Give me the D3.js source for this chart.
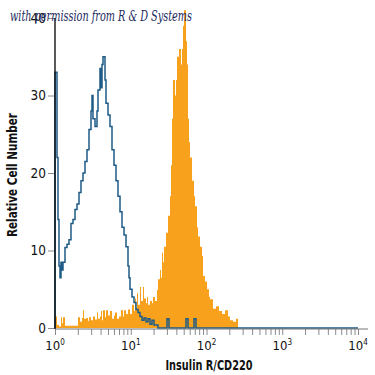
<!doctype html>
<html>
<head>
<meta charset="utf-8">
<script src="https://d3js.org/d3.v7.min.js"></script>
<style>
  body{margin:0;background:#fff;}
  text{font-family:"Liberation Sans Narrow","DejaVu Sans Condensed","Arial Narrow",sans-serif;font-stretch:condensed;}
  .tick line{stroke:#8a8a8a;}
</style>
</head>
<body>
<svg id="chart" width="375" height="375"></svg>
<script>
// blue outline histogram (isotype control): bin start intensity, count
var blueX = [1.00,1.063,1.095,1.129,1.164,1.200,1.237,1.275,1.355,1.440,1.530,1.626,1.728,1.837,1.952,2.074,2.204,2.342,2.489,2.645,2.811,2.987,3.079,3.174,3.374,3.585,3.696,3.928,4.049,4.174,4.302,4.573,4.713,5.009,5.323,5.656,6.010,6.389,6.787,7.213,7.664,8.145,8.656,9.199,9.482,9.775,10.39,11.04,11.73,12.47,13.25,14.08,14.96,15.90,16.90,17.95,19.08,20.27,22.89,30.10,31.98,53.63,57.00,68.39,72.67,10000];
var blueY = [33,22,14,8,6.5,8.5,7.5,8.5,10.4,10.8,11.4,13.5,14,15.3,16,17.5,19,20,21.5,23,25.6,28,30,27,26,28,30.7,33.5,31,34,35,32,29,27.5,26,23,21,19,17,15,13,12,10.5,8,6.5,5,4,3.3,2.4,2,1.5,1,1.3,0.8,1.2,0.5,1,0.4,0,1.2,0,1.2,0,1.2,0,0];

// orange filled histogram (anti-Insulin R): bin start intensity, count
var orangeX = [1.00,1.063,1.129,1.200,1.237,1.275,1.355,2.012,2.138,2.272,2.342,2.415,2.566,2.727,2.811,2.987,3.174,3.374,3.585,3.696,3.928,4.049,4.174,4.302,4.573,4.713,5.009,5.323,5.656,6.010,6.196,6.585,6.998,7.436,7.902,8.145,8.656,9.199,9.775,10.39,11.04,11.38,11.73,12.09,12.47,13.25,13.66,14.51,14.96,15.90,16.39,16.90,17.95,19.08,19.67,20.90,22.21,22.89,24.33,25.08,25.85,26.65,27.47,29.19,31.02,32.97,33.99,35.04,36.12,38.39,39.57,40.79,43.35,46.07,47.49,48.96,50.47,53.63,55.29,57.00,58.75,60.57,64.37,68.39,70.50,74.92,77.23,82.07,87.22,89.91,95.54,101.5,107.9,111.2,121.8,133.5,146.2,160.2,175.5,192.2,204.3,223.8,245.2,260.5];
var orangeY = [1.5,0.4,0.2,1.4,0.6,1.4,0.3,1.4,0.8,1.3,2.3,1.2,1.3,0.9,1.4,1.0,1.5,1.1,2.0,1.2,1.5,2.2,1.0,2.3,1.4,2.3,1.6,2.2,1.2,1.6,2.0,1.2,1.5,2.3,1.5,2.3,1.8,2.4,1.8,3.0,2.2,3.8,2.6,4.5,3.0,5.3,3.5,5.3,3.8,3.2,4.0,3.0,3.5,3.2,4.0,3.5,4.9,6.3,7.5,6.5,9.7,8.5,10.5,12.3,14.5,17,21,27,32,30,32,35,36,34,36,39,41,37,34,27,24,22,19,17,15.7,13,11.8,10.5,9.3,6.7,6,5,4,3.7,2.5,2.8,2.2,1.8,2.3,1.5,1.0,0.8,1.2,0];

var xDecades = [1,10,100,1000,10000];
var yTicks = [0,10,20,30,40];

var svg = d3.select('#chart');
var x = d3.scaleLog().domain([1,10000]).range([55,358]);
var y = d3.scaleLinear().domain([0,40]).range([328,18]);

var orange = orangeX.map(function(v,i){return {x:v,y:orangeY[i]};});
var blue = [{x:1,y:0}].concat(blueX.map(function(v,i){return {x:v,y:blueY[i]};}));

// orange area
svg.append('path').datum(orange)
  .attr('fill','#f7a11c')
  .attr('d', d3.area().curve(d3.curveStepAfter)
    .x(function(d){return x(d.x);})
    .y0(y(0)).y1(function(d){return y(d.y);}));

// blue outline
svg.append('path').datum(blue)
  .attr('fill','none').attr('stroke','#1e5b87').attr('stroke-width',1.5)
  .attr('d', d3.line().curve(d3.curveStepAfter)
    .x(function(d){return x(d.x);})
    .y(function(d){return y(d.y);}));

// x axis
var xAxis = d3.axisBottom(x).tickValues(x.ticks()).tickSize(6).tickFormat('');
var gx = svg.append('g').attr('transform','translate(0,329)').call(xAxis);
gx.select('.domain').remove();
gx.append('line').attr('x1',55).attr('x2',368).attr('stroke','#777').attr('stroke-width',1.2);
gx.selectAll('.decade').data(xDecades).enter().append('text')
  .attr('class','decade')
  .attr('x',function(d){return x(d);}).attr('y',21)
  .attr('text-anchor','middle').attr('fill','#111').attr('font-size',13)
  .each(function(d){
    var t = d3.select(this);
    t.append('tspan').text('10');
    t.append('tspan').attr('dy',-5).attr('font-size',8).text(Math.round(Math.log10(d)));
  });

// y axis
var yAxis = d3.axisLeft(y).tickValues(yTicks).tickSize(7).tickPadding(2);
var gy = svg.append('g').attr('transform','translate(55,0)').call(yAxis);
gy.select('.domain').remove();
gy.append('line').attr('y1',18).attr('y2',329).attr('stroke','#000').attr('stroke-width',1.3);
gy.selectAll('.tick text').attr('font-size',13.5).attr('fill','#111')
  .style('font-family','"Liberation Sans Narrow","DejaVu Sans Condensed",sans-serif');

// axis titles
svg.append('text').attr('x',209).attr('y',370).attr('text-anchor','middle')
  .attr('font-size',13.5).attr('font-weight','bold').attr('fill','#111')
  .attr('textLength',87).attr('lengthAdjust','spacingAndGlyphs')
  .text('Insulin R/CD220');
svg.append('text').attr('transform','translate(17,175) rotate(-90)').attr('text-anchor','middle')
  .attr('font-size',13.5).attr('font-weight','bold').attr('fill','#111')
  .attr('textLength',124).attr('lengthAdjust','spacingAndGlyphs')
  .text('Relative Cell Number');

// watermark
svg.append('text').attr('x',10).attr('y',21)
  .attr('font-size',14).attr('font-style','italic').attr('fill','#1c2a5e')
  .attr('textLength',182).attr('lengthAdjust','spacingAndGlyphs')
  .style('font-family','"DejaVu Serif","Liberation Serif",serif')
  .text('with permission from R & D Systems');
</script>
</body>
</html>
